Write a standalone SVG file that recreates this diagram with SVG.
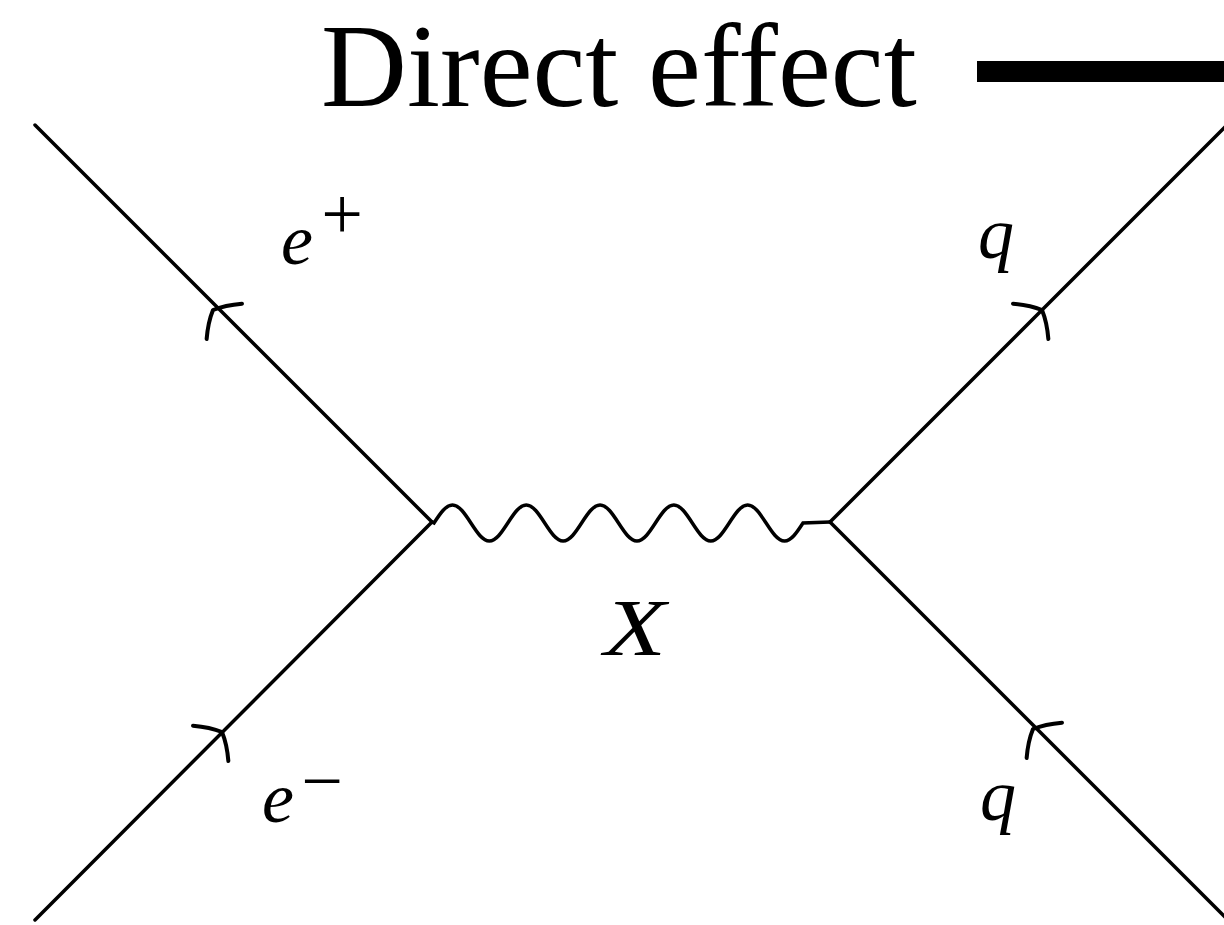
<svg xmlns="http://www.w3.org/2000/svg" xmlns:xlink="http://www.w3.org/1999/xlink" width="1224" height="925" viewBox="0 0 1224 925">
<style>
.ln{fill:none;stroke:#000;stroke-width:3.5;stroke-linecap:round}
.ar{fill:none;stroke:#000;stroke-width:4;stroke-linecap:round;stroke-linejoin:round}
.m{font-family:"Liberation Serif","Times New Roman",serif;font-style:italic;fill:#000}
.s{font-family:"Liberation Serif","Times New Roman",serif;fill:#000}
</style>
<defs>
<path id="arr" class="ar" d="M -16,-25 Q -5,-12 0,0 Q -5,12 -16,25"/>
</defs>
<rect width="1224" height="925" fill="#fff"/>
<g id="title">
<text class="s" x="321" y="106" font-size="119">Direct effect</text>
<rect x="977" y="61" width="247" height="21" fill="#000"/>
</g>
<g id="connectors">
<line class="ln" x1="35" y1="125" x2="432" y2="522"/>
<line class="ln" x1="35" y1="920" x2="432" y2="522"/>
<line class="ln" x1="830" y1="522" x2="1226" y2="126"/>
<line class="ln" x1="830" y1="522" x2="1226" y2="918"/>
<path class="ln" d="M 432,522 L 434,523
c 6.02,-9.22 11.77,-18 18.45,-18 c 6.68,0 12.43,8.78 18.45,18 c 6.02,9.22 11.77,18 18.45,18 c 6.68,0 12.43,-8.78 18.45,-18
c 6.02,-9.22 11.77,-18 18.45,-18 c 6.68,0 12.43,8.78 18.45,18 c 6.02,9.22 11.77,18 18.45,18 c 6.68,0 12.43,-8.78 18.45,-18
c 6.02,-9.22 11.77,-18 18.45,-18 c 6.68,0 12.43,8.78 18.45,18 c 6.02,9.22 11.77,18 18.45,18 c 6.68,0 12.43,-8.78 18.45,-18
c 6.02,-9.22 11.77,-18 18.45,-18 c 6.68,0 12.43,8.78 18.45,18 c 6.02,9.22 11.77,18 18.45,18 c 6.68,0 12.43,-8.78 18.45,-18
c 6.02,-9.22 11.77,-18 18.45,-18 c 6.68,0 12.43,8.78 18.45,18 c 6.02,9.22 11.77,18 18.45,18 c 6.68,0 12.43,-8.78 18.45,-18
L 830,522"/>
<use xlink:href="#arr" transform="translate(213,310) rotate(225)"/>
<use xlink:href="#arr" transform="translate(222,732) rotate(-45)"/>
<use xlink:href="#arr" transform="translate(1042,310) rotate(-45)"/>
<use xlink:href="#arr" transform="translate(1033,729) rotate(225)"/>
</g>
<g id="label-eplus">
<text class="m" x="281" y="264" font-size="72">e</text>
<text class="s" x="342" y="239" font-size="74" text-anchor="middle">+</text>
</g>
<g id="label-eminus">
<text class="m" x="262" y="822" font-size="72">e</text>
<text class="s" x="322" y="806" font-size="74" text-anchor="middle">−</text>
</g>
<g id="label-X">
<text class="m" x="604" y="655" font-size="80" textLength="62" lengthAdjust="spacingAndGlyphs">X</text>
</g>
<g id="label-q-top">
<text class="m" x="978" y="258" font-size="72">q</text>
</g>
<g id="label-q-bottom">
<text class="m" x="980" y="820" font-size="72">q</text>
</g>
</svg>
